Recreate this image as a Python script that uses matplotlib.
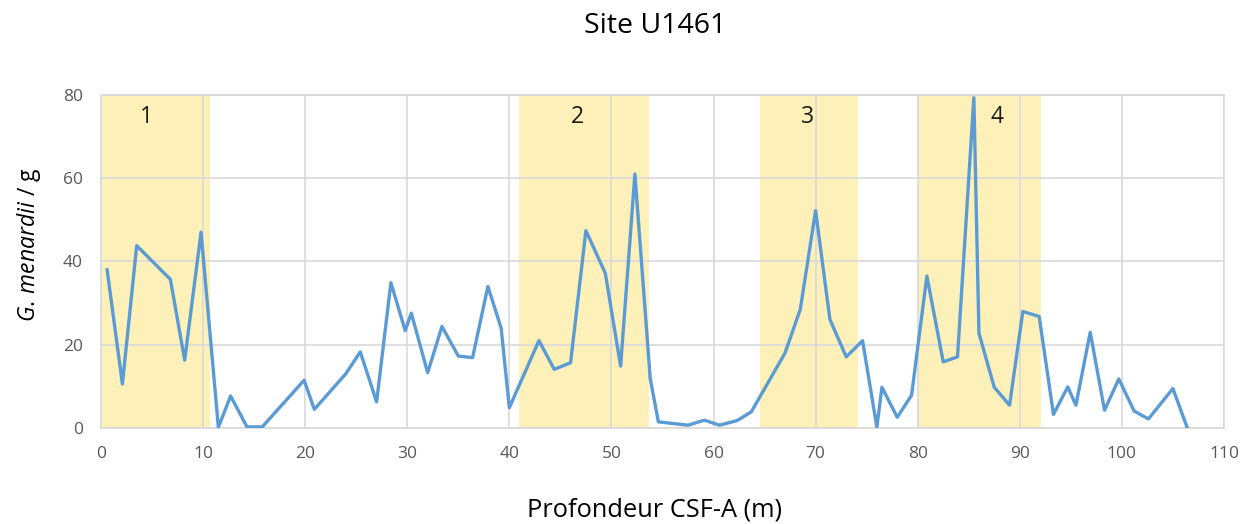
import matplotlib
matplotlib.use('Agg')
from matplotlib import pyplot as plt

plt.rcParams['font.family'] = ['Open Sans', 'DejaVu Sans']
plt.rcParams['mathtext.fontset'] = 'custom'
plt.rcParams['mathtext.it'] = 'Open Sans:italic'
plt.rcParams['mathtext.rm'] = 'Open Sans'

# depth (m) and G. menardii per g
depth = [0.6, 2.1, 3.5, 6.8, 8.2, 9.8, 11.5, 12.7, 14.3, 15.8, 19.9, 20.9, 24.0, 25.4,
         27.0, 28.4, 29.8, 30.4, 32.0, 33.4, 35.0, 36.4, 37.9, 39.2, 40.0, 42.9, 44.4,
         46.0, 47.5, 49.4, 50.9, 52.3, 53.8, 54.6, 57.5, 59.1, 60.6, 62.3, 63.7, 67.0,
         68.5, 70.0, 71.4, 73.0, 74.6, 76.0, 76.5, 78.0, 79.4, 80.9, 82.5, 83.9, 85.5,
         86.0, 87.5, 89.0, 90.3, 91.9, 93.3, 94.7, 95.5, 96.9, 98.3, 99.7, 101.2, 102.6,
         105.0, 106.4]
menardii = [38.0, 10.6, 43.8, 35.7, 16.3, 47.0, 0.2, 7.7, 0.3, 0.3, 11.5, 4.5, 13.1, 18.3,
            6.3, 34.9, 23.4, 27.6, 13.3, 24.4, 17.3, 16.9, 34.0, 24.0, 4.9, 21.0, 14.1,
            15.7, 47.4, 37.2, 14.9, 61.0, 11.9, 1.5, 0.7, 1.9, 0.7, 1.8, 3.9, 18.0,
            28.5, 52.2, 26.1, 17.1, 21.0, 0.2, 9.8, 2.6, 7.9, 36.5, 15.9, 17.1, 79.3,
            22.8, 9.8, 5.5, 28.0, 26.8, 3.3, 9.9, 5.5, 23.0, 4.3, 11.8, 4.1, 2.2,
            9.5, 0.1]

# shaded intervals and their labels
band_start = [0, 40.9, 64.6, 80.0]
band_end = [10.7, 53.7, 74.2, 92.1]
band_label = ['1', '2', '3', '4']
label_x = [4.5, 46.7, 69.2, 87.8]

fig = plt.figure(figsize=(12.45, 5.24), dpi=100)
ax = fig.add_axes([0.0811, 0.183, 0.902, 0.636])

for s, e in zip(band_start, band_end):
    ax.axvspan(s, e, color='#fdf0b8', lw=0, zorder=1)
for lab, lx in zip(band_label, label_x):
    ax.text(lx, 74.8, lab, ha='center', va='center', fontsize=16.5, color='#1a1a1a')

ax.plot(depth, menardii, color='#5b9bd5', lw=2.4, zorder=3)

ax.set_xlim(0, 110)
ax.set_ylim(0, 80)
ax.set_xticks(range(0, 111, 10))
ax.set_yticks(range(0, 81, 20))
ax.set_axisbelow('line')
ax.grid(True, color='#d9d9d9', lw=1.2)
for sp in ax.spines.values():
    sp.set_color('#d9d9d9')
    sp.set_linewidth(1.2)
ax.tick_params(length=0, pad=13, labelsize=12.5, labelcolor='#595959')

fig.text(0.526, 0.950, 'Site U1461', ha='center', va='center', fontsize=20.5)
fig.text(0.526, 0.027, 'Profondeur CSF-A (m)', ha='center', va='center', fontsize=18.3)
fig.text(0.023, 0.532, r'$\mathit{G.\,menardii}$ / g', ha='center', va='center',
         rotation=90, fontsize=16.5)

fig.savefig('out.png', dpi=100)
